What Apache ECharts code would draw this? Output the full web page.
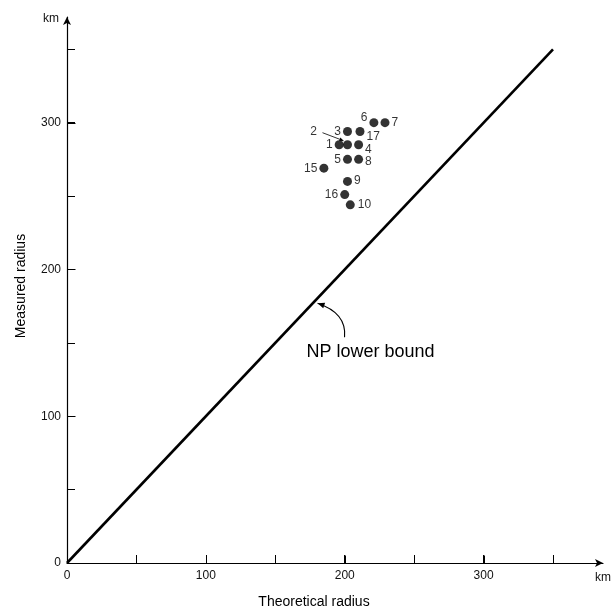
<!DOCTYPE html>
<html>
<head>
<meta charset="utf-8">
<script src="https://cdn.jsdelivr.net/npm/echarts@6/dist/echarts.min.js"></script>
<style>
  html, body { margin: 0; padding: 0; background: #fff; }
  #chart { width: 614px; height: 611px; }
</style>
</head>
<body>
<div id="chart"></div>
<script>
// Site numbers with theoretical vs measured radius (km)
const siteIds       = ['1', '2', '3', '4', '5', '6', '7', '8', '9', '10', '15', '16', '17'];
const theoreticalKm = [196, 202, 202, 210, 202, 221, 229, 210, 202, 204, 185, 200, 211];
const measuredKm    = [285, 285, 294, 285, 275, 300, 300, 275, 260, 244, 269, 251, 294];

// NP lower bound: measured = theoretical, drawn from 0 to 350 km
const boundKm = [0, 350];
const boundAnnotationKm = 179;

// Axis ticks and labels
const tickValues  = [0, 50, 100, 150, 200, 250, 300, 350];
const labelValues = [0, 100, 200, 300];

const FONT = 'Liberation Sans, Arial, Helvetica, sans-serif';
const X_MAX = 386;
const Y_MAX = 372;
const TICK_LEN = 8;

// Where each site number sits around its dot: [side, dx, dy]
const labelPlacement = {
  '1':  ['left', 0, 0],
  '2':  ['left', -24, -13],
  '3':  ['left', 0, 0],
  '4':  ['right', 0, 5],
  '5':  ['left', 0, 0],
  '6':  ['left', 0, -5],
  '7':  ['right', 0, 0],
  '8':  ['right', 0, 2],
  '9':  ['right', 0, -1],
  '10': ['right', 1, 0],
  '15': ['left', 0, 1],
  '16': ['left', 0, 0],
  '17': ['right', 0, 5]
};

const chart = echarts.init(document.getElementById('chart'), null, { renderer: 'canvas' });

function mainAxis(max, margin) {
  return {
    type: 'value',
    min: 0,
    max: max,
    splitLine: { show: false },
    axisLine: {
      show: true,
      onZero: false,
      symbol: ['none', 'arrow'],
      symbolSize: [6, 8],
      lineStyle: { color: '#000', width: 1.2 }
    },
    axisTick: {
      show: true,
      inside: true,
      length: TICK_LEN,
      customValues: tickValues,
      lineStyle: { color: '#000', width: 1 }
    },
    axisLabel: {
      customValues: labelValues,
      color: '#111',
      fontSize: 12,
      fontFamily: FONT,
      margin: margin
    }
  };
}

const scatterData = siteIds.map((id, i) => {
  const p = labelPlacement[id];
  return {
    name: id,
    value: [theoreticalKm[i], measuredKm[i]],
    label: { position: p[0], offset: [p[1], p[2]] }
  };
});

chart.setOption({
  animation: false,
  backgroundColor: '#fff',
  grid: { left: 67, right: 11, top: 17, bottom: 48, containLabel: false },
  xAxis: mainAxis(X_MAX, 7),
  yAxis: mainAxis(Y_MAX, 6),
  series: [
    {
      type: 'line',
      silent: true,
      symbol: 'none',
      data: boundKm.map(v => [v, v]),
      lineStyle: { color: '#000', width: 2.6 },
      z: 2
    },
    {
      type: 'scatter',
      symbol: 'circle',
      symbolSize: 9,
      itemStyle: { color: '#000' },
      data: scatterData,
      label: {
        show: true,
        formatter: '{b}',
        distance: 2,
        color: '#000',
        fontSize: 12,
        fontFamily: FONT
      },
      z: 3
    }
  ]
});

// Annotations placed relative to the data through the chart's own scales
function px(x, y) { return chart.convertToPixel({ seriesIndex: 0 }, [x, y]); }

function arrowHead(tip, from, len, half) {
  const dx = tip[0] - from[0], dy = tip[1] - from[1];
  const d = Math.hypot(dx, dy) || 1;
  const ux = dx / d, uy = dy / d;
  const bx = tip[0] - ux * len, by = tip[1] - uy * len;
  return {
    type: 'polygon',
    shape: { points: [tip, [bx - uy * half, by + ux * half], [bx + uy * half, by - ux * half]] },
    style: { fill: '#000' },
    silent: true
  };
}

// Tick marks under the labelled values on both axes
const origin = px(0, 0);
const labelTicks = [];
labelValues.filter(v => v > 0).forEach(v => {
  const xp = Math.round(px(v, 0)[0]) + 0.5;
  const yp = Math.round(px(0, v)[1]) + 0.5;
  const ox = Math.round(origin[0]) + 0.5;
  const oy = Math.round(origin[1]) + 0.5;
  labelTicks.push({ type: 'line', silent: true, shape: { x1: xp, y1: oy, x2: xp, y2: oy - TICK_LEN }, style: { stroke: '#000', lineWidth: 1 } });
  labelTicks.push({ type: 'line', silent: true, shape: { x1: ox, y1: yp, x2: ox + TICK_LEN, y2: yp }, style: { stroke: '#000', lineWidth: 1 } });
});

const tip = px(boundAnnotationKm, boundAnnotationKm);
tip[0] += 2; tip[1] += 3;
const curveStart = [tip[0] + 27, tip[1] + 34];
const cp2 = [tip[0] + 15, tip[1] + 5];

const dot2 = px(theoreticalKm[1], measuredKm[1]);
const leadStart = [dot2[0] - 25, dot2[1] - 12];
const leadEnd = [dot2[0] - 4, dot2[1] - 4];

chart.setOption({
  graphic: labelTicks.concat([
    // unit labels at the axis ends
    { type: 'text', x: 51, y: 19, style: { text: 'km', font: '12px ' + FONT, fill: '#111', align: 'center', verticalAlign: 'middle' }, silent: true },
    { type: 'text', x: 603, y: 578, style: { text: 'km', font: '12px ' + FONT, fill: '#111', align: 'center', verticalAlign: 'middle' }, silent: true },
    // axis titles
    { type: 'text', x: 314, y: 602, style: { text: 'Theoretical radius', font: '14px ' + FONT, fill: '#000', align: 'center', verticalAlign: 'middle' }, silent: true },
    { type: 'text', x: 21, y: 286, rotation: Math.PI / 2, style: { text: 'Measured radius', font: '14px ' + FONT, fill: '#000', align: 'center', verticalAlign: 'middle' }, silent: true },
    // NP lower bound callout
    {
      type: 'bezierCurve',
      shape: {
        x1: curveStart[0], y1: curveStart[1],
        cpx1: curveStart[0] + 2, cpy1: curveStart[1] - 20,
        cpx2: cp2[0], cpy2: cp2[1],
        x2: tip[0], y2: tip[1]
      },
      style: { stroke: '#000', lineWidth: 1.1, fill: null },
      silent: true
    },
    arrowHead(tip, cp2, 7, 3),
    { type: 'text', x: tip[0] - 11, y: tip[1] + 49, style: { text: 'NP lower bound', font: '18px ' + FONT, fill: '#000', align: 'left', verticalAlign: 'middle' }, silent: true },
    // leader from label "2" to its dot
    {
      type: 'line',
      shape: { x1: leadStart[0], y1: leadStart[1], x2: leadEnd[0], y2: leadEnd[1] },
      style: { stroke: '#000', lineWidth: 0.8 },
      silent: true
    },
    arrowHead(leadEnd, leadStart, 4, 1.8)
  ])
});
</script>
</body>
</html>
